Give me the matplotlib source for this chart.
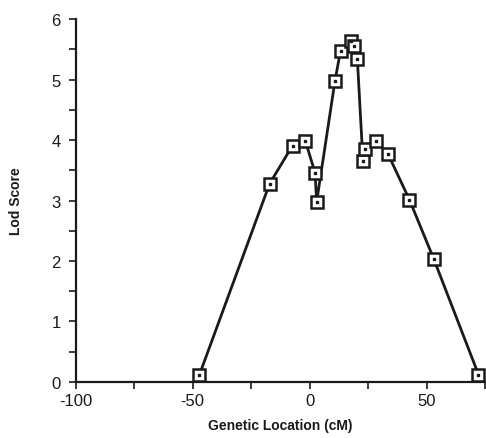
import numpy as np
import matplotlib
matplotlib.use("Agg")
from matplotlib import pyplot as plt

# Lod score curve
location = [-47.2, -17.1, -7.3, -1.8, 2.3, 3.0, 10.8, 13.2, 17.6, 18.9, 20.4,
            22.8, 23.5, 28.5, 33.5, 42.7, 53.1, 72.2]
lod = [0.11, 3.28, 3.91, 3.98, 3.46, 2.98, 4.97, 5.48, 5.64, 5.55, 5.34,
       3.65, 3.86, 3.98, 3.77, 3.01, 2.03, 0.12]

x_ticks = [-100, -75, -50, -25, 0, 25, 50, 75]
x_labels = ["-100", "", "-50", "", "0", "", "50", ""]
y_ticks = [0, 0.5, 1, 1.5, 2, 2.5, 3, 3.5, 4, 4.5, 5, 5.5, 6]
y_labels = ["0", "", "1", "", "2", "", "3", "", "4", "", "5", "", "6"]

plt.rcParams["font.family"] = ["Liberation Sans", "DejaVu Sans"]

fig = plt.figure(figsize=(4.86, 4.39), dpi=100)
ax = fig.add_axes([0.156, 0.128, 0.842, 0.826])

ink = "#1a1a1a"
ax.plot(location, lod, color=ink, lw=2.0, marker="s", ms=8.5,
        mfc="white", mec=ink, mew=1.8, zorder=3)
ax.plot(location, lod, ls="none", marker="s", ms=1.8, color=ink, zorder=4)

ax.set_xlim(-100, 75)
ax.set_ylim(0, 6)
ax.set_xticks(x_ticks)
ax.set_xticklabels(x_labels)
ax.set_yticks(y_ticks)
ax.set_yticklabels(y_labels)

for side in ["top", "right"]:
    ax.spines[side].set_visible(False)
for side in ["left", "bottom"]:
    ax.spines[side].set_linewidth(1.6)
    ax.spines[side].set_color(ink)

ax.tick_params(direction="out", length=5, width=1.2, colors=ink,
               labelsize=12)
ax.tick_params(axis="x", pad=3)
ax.tick_params(axis="y", pad=6)

ax.set_xlabel("Genetic Location (cM)", fontsize=10, fontweight="bold",
              labelpad=7, color=ink)
ax.set_ylabel("Lod Score", fontsize=10, fontweight="bold", labelpad=20,
              color=ink)

fig.savefig("out.png", dpi=100)
